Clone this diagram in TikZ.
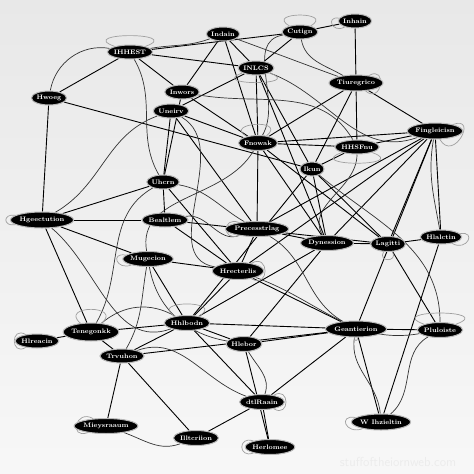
\documentclass[tikz,border=0pt]{standalone}
\usetikzlibrary{shapes.geometric,backgrounds}
\begin{document}
\begin{tikzpicture}[x=1pt,y=-1pt,
  nd/.style={ellipse, fill=black, draw=gray!55, line width=1pt, text=white,
    font=\fontsize{6.5}{6.5}\selectfont\bfseries, inner xsep=0pt, inner ysep=0pt, minimum height=14pt},
  st/.style={black, line width=0.9pt},
  cv/.style={black!80, line width=0.7pt},
  lp/.style={gray!75, line width=0.7pt}]
\useasboundingbox (0,0) rectangle (474,474);
% nodes
\node[nd,minimum width=28pt] (A) at (223,34) {Indain};
\node[nd,minimum width=28pt] (B) at (300,32) {Cutign};
\node[nd,minimum width=30pt] (C) at (355,21) {Inhain};
\node[nd,minimum width=30pt] (D) at (130,52) {IHHEST};
\node[nd,minimum width=26pt] (E) at (256,68) {INLCS};
\node[nd,minimum width=34pt] (F) at (49,98) {Hwoeg};
\node[nd,minimum width=30pt] (G) at (182,92) {Inwors};
\node[nd,minimum width=30pt] (H) at (171,111) {Uneirv};
\node[nd,minimum width=46pt,minimum height=16pt] (I) at (356,83) {Tiuregrico};
\node[nd,minimum width=34pt,minimum height=15pt] (J) at (258,143) {Fnowak};
\node[nd,minimum width=30pt] (K) at (357,147) {HHSFnu};
\node[nd,minimum width=46pt,minimum height=16pt] (L) at (435,131) {Fingleicisn};
\node[nd,minimum width=24pt] (M) at (312,169) {Ikun};
\node[nd,minimum width=28pt] (N) at (163,182) {Uhcrn};
\node[nd,minimum width=56pt,minimum height=16pt] (O) at (42,220) {Hgeectution};
\node[nd,minimum width=40pt] (P) at (165,220) {Bealtlem};
\node[nd,minimum width=50pt,minimum height=15pt] (Q) at (257,229) {Precesstrlag};
\node[nd,minimum width=42pt,minimum height=15pt] (R) at (148,259) {Mugecion};
\node[nd,minimum width=40pt,minimum height=15pt] (S) at (327,243) {Dynession};
\node[nd,minimum width=28pt,minimum height=15pt] (T) at (388,244) {Lagitti};
\node[nd,minimum width=34pt] (U) at (441,237) {Hlalctin};
\node[nd,minimum width=38pt,minimum height=17pt] (V) at (238,271) {Hrecterlis};
\node[nd,minimum width=40pt] (W) at (37,341) {Hlreacin};
\node[nd,minimum width=48pt,minimum height=18pt] (X) at (91,332) {Tenegonkk};
\node[nd,minimum width=40pt,minimum height=15pt] (Y) at (187,323) {Hhlbodn};
\node[nd,minimum width=38pt] (Z) at (122,356) {Trvuhon};
\node[nd,minimum width=44pt,minimum height=16pt] (AA) at (356,329) {Geantierion};
\node[nd,minimum width=36pt,minimum height=15pt] (AB) at (440,330) {Pluloiste};
\node[nd,minimum width=30pt,minimum height=15pt] (AC) at (244,344) {Hlebor};
\node[nd,minimum width=36pt,minimum height=15pt] (AD) at (262,402) {dtlRaain};
\node[nd,minimum width=46pt,minimum height=16pt] (AE) at (381,422) {W Ihzieltin};
\node[nd,minimum width=42pt,minimum height=15pt] (AF) at (270,447) {Herlomee};
\node[nd,minimum width=50pt,minimum height=15pt] (AG) at (106,426) {Mieysraaum};
\node[nd,minimum width=42pt,minimum height=15pt] (AH) at (196,438) {Illtcriion};
\node[text=white!85!gray, font=\fontsize{13}{13}\selectfont\sffamily] (wm) at (398,462) {stuffoftheiornweb.com};
\begin{scope}[on background layer]
\fill[top color=gray!18, bottom color=gray!6] (0,0) rectangle (474,474);
% straight edges
\foreach \a/\b in {F/D,F/M,D/G,D/E,D/B,A/E,A/G,A/J,B/E,B/C,C/I,I/L,I/K,I/J,I/M,E/J,E/H,E/M,G/J,H/J,H/N,H/Q,
  J/K,J/L,J/S,J/T,J/Q,K/M,K/L,L/S,L/T,L/U,L/Q,L/AA,L/V,M/S,M/T,N/P,N/V,O/P,O/R,O/X,O/N,P/V,P/T,Q/S,Q/V,R/V,
  R/Y,S/T,S/Y,T/U,T/AB,U/AE,AA/AB,AA/AE,AA/Y,AA/V,AA/AC,AA/AD,AC/AF,AC/Y,AD/AF,AD/AH,Z/AG,Z/AH,X/W,X/Z,X/Y,
  Y/Z,V/Y,Z/AA,F/O,G/N,E/S,M/Y,Y/AD,S/AC}
  \draw[st] (\a) -- (\b);
% curved edges
\draw[cv] (D) to[out=170,in=80] (F);
\draw[cv] (D) to[out=-60,in=120] (N);
\draw[cv] (A) to[out=200,in=10] (D);
\draw[cv] (A) to[out=-20,in=160] (I);
\draw[cv] (B) to[out=-80,in=150] (I);
\draw[cv] (B) to[out=190,in=60] (J);
\draw[cv] (E) to[out=-20,in=200] (L);
\draw[cv] (G) to[out=-10,in=120] (K);
\draw[cv] (H) to[out=200,in=30] (O);
\draw[cv] (H) to[out=-30,in=170] (V);
\draw[cv] (N) to[out=-10,in=150] (Q);
\draw[cv] (P) to[out=10,in=200] (Q);
\draw[cv] (R) to[out=-80,in=170] (AC);
\draw[cv] (R) to[out=-100,in=60] (Z);
\draw[cv] (V) to[out=-20,in=190] (AB);
\draw[cv] (Q) to[out=-30,in=150] (AA);
\draw[cv] (AA) to[out=-100,in=95] (AE);
\draw[cv] (AB) to[out=210,in=40] (AE);
\draw[cv] (AC) to[out=-60,in=70] (AD);
\draw[cv] (Z) to[out=20,in=160] (AD);
\draw[cv] (AG) to[out=-20,in=200] (AH);
\draw[cv] (X) to[out=40,in=150] (Y);
\draw[cv] (L) to[out=-100,in=100] (U);
\draw[cv] (K) to[out=-90,in=120] (S);
\draw[cv] (J) to[out=-120,in=100] (R);
\draw[cv] (M) to[out=-40,in=90] (AB);
\draw[cv] (O) to[out=-40,in=200] (Y);
\draw[cv] (N) to[out=-150,in=60] (X);
% halo loops
\foreach \n/\o/\i in {C/170/-150,B/150/30,D/160/20,E/-20/200,I/30/-40,L/20/-60,O/170/-170,Q/160/-160,
  J/150/40,K/200/-20,U/10/-30,AB/160/20,AE/170/200,AG/150/200,X/140/40,R/170/200,V/-30/30,AD/30/-30,AF/160/200,Y/150/30,T/-60/240,AA/-100/-80,W/150/210}
  \draw[lp] (\n) to[out=\o,in=\i,looseness=3.5] (\n);
\end{scope}
\end{tikzpicture}
\end{document}
